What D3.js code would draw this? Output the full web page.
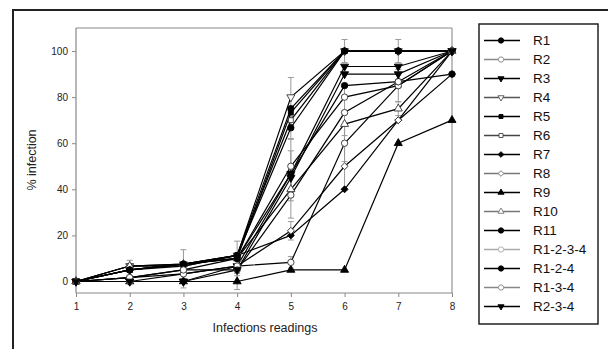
<!DOCTYPE html>
<html><head><meta charset="utf-8">
<script src="https://cdn.jsdelivr.net/npm/d3@7/dist/d3.min.js"></script>
<style>
body{margin:0;background:#fff;}
svg{display:block;font-family:"Liberation Sans",Arial,sans-serif;}
</style></head>
<body>
<svg id="chart" width="608" height="349"></svg>
<script>
// ---------- data ----------
const readings = [1, 2, 3, 4, 5, 6, 7, 8];
const yTicks = [0, 20, 40, 60, 80, 100];
const seriesNames = ["R1","R2","R3","R4","R5","R6","R7","R8","R9","R10","R11","R1-2-3-4","R1-2-4","R1-3-4","R2-3-4"];
const R1     = [0, 5,   7.5, 11.3, 75,   100,  100,  100];
const R2     = [0, 1.7, 5,   10,   50,   80,   85,   100];
const R3     = [0, 0,   0,   6.7,  46.7, 93.3, 93.3, 100];
const R4     = [0, 6.7, 7.5, 11.3, 80,   100,  100,  100];
const R5     = [0, 5,   7.5, 10,   73.3, 100,  100,  100];
const R6     = [0, 6.7, 6.7, 11.3, 70,   100,  100,  100];
const R7     = [0, 5,   6.7, 11.3, 20,   40,   70,   100];
const R8     = [0, 1.7, 3.3, 6.7,  22,   50,   70,   90];
const R9     = [0, 0,   0,   0,    5,    5,    60,   70];
const R10    = [0, 6.7, 7.5, 10,   40,   68.3, 75,   100];
const R11    = [0, 5,   7.5, 11.3, 66.7, 100,  100,  100];
const R1234  = [0, 0,   3.3, 6.7,  8.3,  60,   85,   100];
const R124   = [0, 5,   7.5, 10,   46.7, 85,   86.7, 90];
const R134   = [0, 1.7, 5,   5,    37.5, 73.3, 86.7, 100];
const R234   = [0, 0,   0,   5,    45,   90,   90,   100];
const seriesValues = [R1,R2,R3,R4,R5,R6,R7,R8,R9,R10,R11,R1234,R124,R134,R234];
// error bars (± value) per series and reading; 0 = none
const errR2    = [0,0,0,0,12,6,7,0];
const errR4    = [0,0,0,0,8.5,0,0,0];
const errR6    = [0,0,0,0,0,5,5,0];
const errR8    = [0,0,0,0,4,10,0,0];
const errR9    = [0,0,2.8,3.5,0,0,0,0];
const errR10   = [0,2.5,6.3,7.5,5,5,3,0];
const errR11   = [0,0,0,0,5,0,0,0];
const errR1234 = [0,0,0,0,2.5,8,0,0];
const errR124  = [0,0,0,0,10,0,0,0];
const errR134  = [0,0,0,0,10,0,0,0];
const zeroErr  = [0,0,0,0,0,0,0,0];
const seriesErrors = [zeroErr,errR2,zeroErr,errR4,zeroErr,errR6,zeroErr,errR8,errR9,errR10,errR11,errR1234,errR124,errR134,zeroErr];
// marker style
const markerShape = ["circle","circle","down","down","square","square","diamond","diamond","up","up","circle","circle","circle","circle","down"];
const markerFilled = [true,false,true,false,true,false,true,false,true,false,true,false,true,false,true];
const legendLineColor = ["#000","#888","#000","#555","#000","#444","#000","#777","#000","#777","#000","#aaa","#000","#888","#000"];

// ---------- layout ----------
const svg = d3.select("#chart");
const plot = {left: 76, right: 452, top: 28, bottom: 293};
const x = d3.scaleLinear().domain([1, 8]).range([plot.left, plot.right]);
const y = d3.scaleLinear().domain([-5, 110]).range([plot.bottom, plot.top]);

// outer border
svg.append("rect").attr("x", 13).attr("y", 10).attr("width", 610).attr("height", 350)
  .attr("fill", "none").attr("stroke", "#222").attr("stroke-width", 2);

// frame top/right
svg.append("line").attr("x1", plot.left).attr("x2", plot.right).attr("y1", plot.top).attr("y2", plot.top)
  .attr("stroke", "#888").attr("stroke-width", 1);
svg.append("line").attr("x1", plot.right).attr("x2", plot.right).attr("y1", plot.top).attr("y2", plot.bottom)
  .attr("stroke", "#aaa").attr("stroke-width", 1.5);

// axes
const yAxis = d3.axisLeft(y).tickValues(yTicks).tickFormat(d3.format("d")).tickSize(4).tickPadding(4).tickSizeOuter(0);
const gy = svg.append("g").attr("transform", `translate(${plot.left},0)`).call(yAxis);
const xAxis = d3.axisBottom(x).tickValues(readings).tickFormat(d3.format("d")).tickSize(4).tickPadding(6).tickSizeOuter(0);
const gx = svg.append("g").attr("transform", `translate(0,${plot.bottom})`).call(xAxis);
[gx, gy].forEach(g => {
  g.select(".domain").attr("stroke", "#888").attr("stroke-width", 1.2);
  g.selectAll(".tick line").attr("stroke", "#888");
  g.selectAll(".tick text").attr("fill", "#222").style("font-size", "10px")
   .style("font-family", '"Liberation Sans",Arial,sans-serif');
});
gy.select(".domain").attr("d", `M0,${plot.top}V${plot.bottom}`);
gx.select(".domain").attr("d", `M${plot.left},0H${plot.right}`);

// axis titles
svg.append("text").attr("x", 265).attr("y", 332).attr("text-anchor", "middle")
  .attr("fill", "#222").style("font-size", "12.5px").text("Infections readings");
svg.append("text").attr("transform", "translate(36,160) rotate(-90)").attr("text-anchor", "middle")
  .attr("fill", "#222").style("font-size", "12.5px").text("% infection");

// symbol helper
function symbolPath(shape, size) {
  if (shape === "circle") return d3.symbol(d3.symbolCircle, size)();
  if (shape === "square") return d3.symbol(d3.symbolSquare, size)();
  if (shape === "diamond") return d3.symbol(d3.symbolSquare, size)();
  return d3.symbol(d3.symbolTriangle, size)();
}
function symbolRotate(shape) {
  if (shape === "down") return 180;
  if (shape === "diamond") return 45;
  return 0;
}

const series = seriesNames.map((name, i) => ({
  name, i,
  points: readings.map((r, j) => ({r, v: seriesValues[i][j], e: seriesErrors[i][j]}))
}));

// error bars
const gErr = svg.append("g").attr("stroke", "#999").attr("stroke-width", 1).attr("fill", "none");
series.forEach(s => {
  s.points.filter(p => p.e > 0).forEach(p => {
    const cx = x(p.r), y1 = y(p.v + p.e), y2 = y(p.v - p.e);
    gErr.append("line").attr("x1", cx).attr("x2", cx).attr("y1", y1).attr("y2", y2);
    gErr.append("line").attr("x1", cx - 3).attr("x2", cx + 3).attr("y1", y1).attr("y2", y1);
    gErr.append("line").attr("x1", cx - 3).attr("x2", cx + 3).attr("y1", y2).attr("y2", y2);
  });
});

// lines
const line = d3.line().x(p => x(p.r)).y(p => y(p.v));
svg.append("g").selectAll("path").data(series).join("path")
  .attr("d", s => line(s.points)).attr("fill", "none")
  .attr("stroke", "#000").attr("stroke-width", 1.2);

// markers
series.forEach(s => {
  const shape = markerShape[s.i];
  const filled = markerFilled[s.i];
  const size = shape === "circle" ? 32 : (shape === "square" || shape === "diamond" ? 24 : 28);
  svg.append("g").selectAll("path").data(s.points).join("path")
    .attr("d", symbolPath(shape, size))
    .attr("transform", p => `translate(${x(p.r)},${y(p.v)}) rotate(${symbolRotate(shape)})`)
    .attr("fill", filled ? "#000" : "#fff")
    .attr("stroke", filled ? "#000" : "#333").attr("stroke-width", 0.9);
});

// legend
const lg = {x: 479, y: 24, w: 119, h: 300, first: 40.5, step: 19};
svg.append("rect").attr("x", lg.x).attr("y", lg.y).attr("width", lg.w).attr("height", lg.h)
  .attr("fill", "#fff").attr("stroke", "#222").attr("stroke-width", 1.5);
const legY = d3.scalePoint().domain(seriesNames).range([lg.first, lg.first + lg.step * (seriesNames.length - 1)]);
series.forEach(s => {
  const yy = legY(s.name);
  const shape = markerShape[s.i];
  const filled = markerFilled[s.i];
  const col = legendLineColor[s.i];
  svg.append("line").attr("x1", 484).attr("x2", 520).attr("y1", yy).attr("y2", yy)
    .attr("stroke", col).attr("stroke-width", filled ? 1.6 : 1.4);
  const size = shape === "circle" ? 22 : 16;
  svg.append("path").attr("d", symbolPath(shape, size))
    .attr("transform", `translate(501,${yy}) rotate(${symbolRotate(shape)})`)
    .attr("fill", filled ? "#000" : "#fff").attr("stroke", filled ? "#000" : col).attr("stroke-width", 0.9);
  svg.append("text").attr("x", 533).attr("y", yy).attr("dy", "0.36em")
    .attr("fill", "#111").style("font-size", "13.5px").text(s.name);
});
</script>
</body></html>
